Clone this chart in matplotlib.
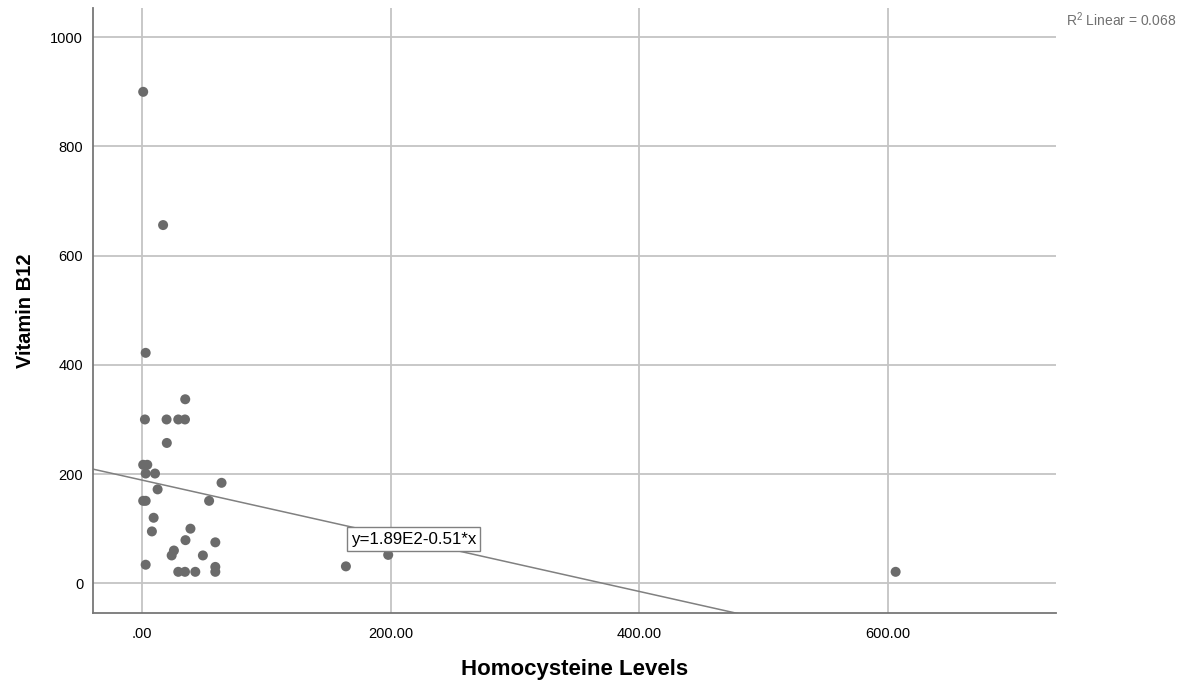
import matplotlib
matplotlib.use('Agg')
import matplotlib.pyplot as plt

plt.rcParams['font.family'] = ['Liberation Sans', 'DejaVu Sans']
plt.rcParams['mathtext.fontset'] = 'custom'
plt.rcParams['mathtext.rm'] = 'Liberation Sans'

# data
homocysteine = [1, 17, 3, 34.8, 2.4, 19.8, 29.2, 34.6, 20, 1, 4.3, 3, 10.5, 12.6,
                64, 1, 3, 54, 9.4, 8, 39, 35, 59, 25.7, 23.9, 49, 3, 29.2, 34.6,
                42.9, 59, 59, 164, 198, 606]
vitamin_b12 = [900, 656, 422, 337, 300, 300, 300, 300, 257, 217, 217, 201, 201, 172,
               184, 151, 151, 151, 120, 95, 100, 79, 75, 60, 51, 51, 34, 21, 21,
               21, 30, 21, 31, 52, 21]
x_ticks = [0, 200, 400, 600]
x_tick_labels = ['.00', '200.00', '400.00', '600.00']
y_ticks = [0, 200, 400, 600, 800, 1000]
intercept = 189
slope = -0.51
r2_text = r'R$^2$ Linear = 0.068'
fit_label = 'y=1.89E2-0.51*x'

fig = plt.figure(figsize=(11.87, 6.9), dpi=100)
ax = fig.add_axes([0.0783, 0.1116, 0.8114, 0.8764])

xmin, xmax = -39.4, 735
ymin, ymax = -54.4, 1053
ax.set_xlim(xmin, xmax)
ax.set_ylim(ymin, ymax)

ax.set_xticks(x_ticks)
ax.set_xticklabels(x_tick_labels)
ax.set_yticks(y_ticks)
ax.tick_params(length=0, labelsize=10.5, colors='black')
ax.tick_params(axis='y', pad=7)
ax.tick_params(axis='x', pad=10)

ax.grid(True, color='#c4c4c4', linewidth=1.3)
ax.set_axisbelow(True)
for side in ['top', 'right']:
    ax.spines[side].set_visible(False)
for side in ['left', 'bottom']:
    ax.spines[side].set_color('#777777')
    ax.spines[side].set_linewidth(1.3)

# fit line
ax.plot([xmin, xmax], [intercept + slope * xmin, intercept + slope * xmax],
        color='#808080', linewidth=1.1, zorder=2)

ax.scatter(homocysteine, vitamin_b12, s=52, color='#6b6b6b', edgecolors='none', zorder=3)

ax.text(168, 81, fit_label, fontsize=12.2, va='center', ha='left', zorder=5,
        bbox=dict(boxstyle='square,pad=0.25', facecolor='white', edgecolor='#808080', linewidth=1))

ax.set_xlabel('Homocysteine Levels', fontsize=16, fontweight='bold', labelpad=13)
ax.set_ylabel('Vitamin B12', fontsize=14.5, fontweight='bold', labelpad=11)

fig.text(0.9907, 0.971, r2_text, fontsize=10, color='#707070', ha='right', va='center')

plt.savefig('out.png', dpi=100)
plt.close()
